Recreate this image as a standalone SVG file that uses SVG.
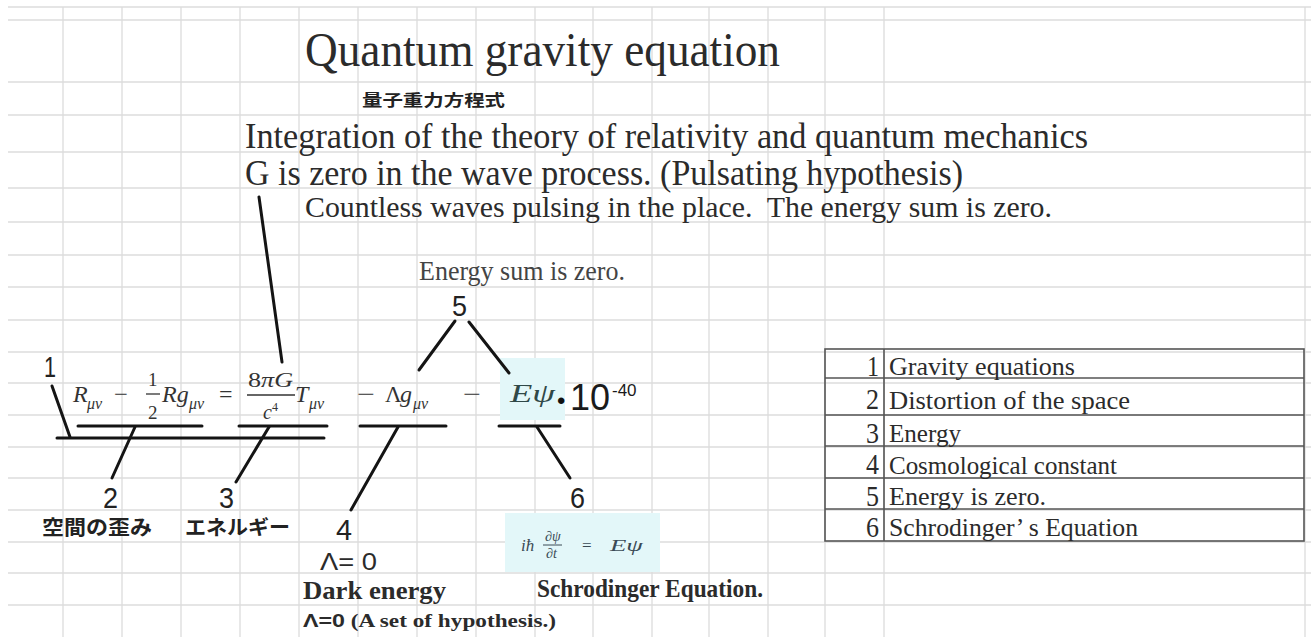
<svg xmlns="http://www.w3.org/2000/svg" width="1311" height="637" viewBox="0 0 1311 637">
<style>
.grid line{stroke:#dcdcdc;stroke-width:1.3}
.ser{font-family:"Liberation Serif","Noto Sans CJK JP",serif;fill:#2b2b2b}
.sans{font-family:"Liberation Sans",Arial,sans-serif;fill:#2b2b2b}
.cjk{font-family:"Noto Sans CJK JP","Noto Sans CJK SC",sans-serif;font-weight:bold;fill:#222}
.num{font-family:"Liberation Sans",Arial,sans-serif;fill:#222;font-size:30px}
.math{font-family:"Liberation Serif",serif;fill:#333}
.it{font-style:italic}
.sub{font-family:"Liberation Serif",serif;fill:#333;font-style:italic;font-size:16px}
.sch{font-family:"Liberation Serif",serif;fill:#3a4a55}
.conn line{stroke:#141414;stroke-width:3;stroke-linecap:round}
.tbl line,.tbl rect{stroke:#555;stroke-width:1.6;fill:none}
.tl{font-family:"Liberation Serif",serif;font-size:26px;fill:#2b2b2b}
.tn{font-family:"Liberation Serif",serif;font-size:30px;fill:#2b2b2b;text-anchor:end}
</style>
<rect x="0" y="0" width="1311" height="637" fill="#ffffff"/>
<g id="grid" class="grid">
<line x1="8" y1="7" x2="1311" y2="7"/>
<line x1="8" y1="20" x2="1311" y2="20"/>
<line x1="8" y1="82" x2="1311" y2="82"/>
<line x1="8" y1="115" x2="1311" y2="115"/>
<line x1="8" y1="152" x2="1311" y2="152"/>
<line x1="8" y1="188" x2="1311" y2="188"/>
<line x1="8" y1="222" x2="1311" y2="222"/>
<line x1="8" y1="255" x2="1311" y2="255"/>
<line x1="8" y1="287" x2="1311" y2="287"/>
<line x1="8" y1="320" x2="1311" y2="320"/>
<line x1="8" y1="352" x2="1311" y2="352"/>
<line x1="8" y1="383" x2="1311" y2="383"/>
<line x1="8" y1="415" x2="1311" y2="415"/>
<line x1="8" y1="447" x2="1311" y2="447"/>
<line x1="8" y1="478" x2="1311" y2="478"/>
<line x1="8" y1="510" x2="1311" y2="510"/>
<line x1="8" y1="542" x2="1311" y2="542"/>
<line x1="8" y1="573" x2="1311" y2="573"/>
<line x1="8" y1="605" x2="1311" y2="605"/>
<line x1="63" y1="7" x2="63" y2="637"/>
<line x1="122" y1="7" x2="122" y2="637"/>
<line x1="181" y1="7" x2="181" y2="637"/>
<line x1="240" y1="7" x2="240" y2="637"/>
<line x1="299" y1="7" x2="299" y2="637"/>
<line x1="358" y1="7" x2="358" y2="637"/>
<line x1="417" y1="7" x2="417" y2="637"/>
<line x1="476" y1="7" x2="476" y2="637"/>
<line x1="535" y1="7" x2="535" y2="637"/>
<line x1="593" y1="7" x2="593" y2="637"/>
<line x1="652" y1="7" x2="652" y2="637"/>
<line x1="709" y1="7" x2="709" y2="637"/>
<line x1="768" y1="7" x2="768" y2="637"/>
<line x1="825" y1="7" x2="825" y2="637"/>
<line x1="884" y1="7" x2="884" y2="637"/>
<line x1="1305" y1="7" x2="1305" y2="637"/>
</g>
<g id="highlights">
<rect x="500" y="358" width="65" height="62" fill="#e3f7f9"/>
<rect x="505" y="513" width="155" height="59" fill="#e3f7f9"/>
</g>
<g id="title">
<text class="ser" x="305" y="66" font-size="49" textLength="475" lengthAdjust="spacingAndGlyphs">Quantum gravity equation</text>
<text class="cjk" x="362" y="106" font-size="16" textLength="143" lengthAdjust="spacingAndGlyphs">量子重力方程式</text>
</g>
<g id="description">
<text class="ser" x="245" y="148" font-size="35" textLength="843" lengthAdjust="spacingAndGlyphs">Integration of the theory of relativity and quantum mechanics</text>
<text class="ser" x="245" y="185" font-size="35" textLength="718" lengthAdjust="spacingAndGlyphs">G is zero in the wave process. (Pulsating hypothesis)</text>
<text class="ser" x="305" y="217" font-size="29" textLength="747" lengthAdjust="spacingAndGlyphs">Countless waves pulsing in the place.&#160; The energy sum is zero.</text>
<text class="ser" x="419" y="280" font-size="27" textLength="206" lengthAdjust="spacingAndGlyphs" style="fill:#444">Energy sum is zero.</text>
</g>
<g id="formula">
<text class="math it" x="73" y="402" font-size="24">R</text>
<text class="sub" x="87" y="409">μν</text>
<text class="math" x="114" y="402" font-size="24" textLength="14" lengthAdjust="spacingAndGlyphs">−</text>
<text class="math" x="148" y="386" font-size="19">1</text>
<line x1="146" y1="394" x2="160" y2="394" stroke="#333" stroke-width="1.3"/>
<text class="math" x="148" y="419" font-size="19">2</text>
<text class="math it" x="162" y="402" font-size="24">Rg</text>
<text class="sub" x="189" y="409">μν</text>
<text class="math" x="219" y="402" font-size="24">=</text>
<text class="math" x="248" y="387" font-size="20" textLength="45" lengthAdjust="spacingAndGlyphs">8<tspan class="it">πG</tspan></text>
<line x1="247" y1="395" x2="295" y2="395" stroke="#333" stroke-width="1.3"/>
<text class="math it" x="263" y="419" font-size="20">c</text>
<text class="math" x="272" y="411" font-size="12">4</text>
<text class="math it" x="295" y="402" font-size="24">T</text>
<text class="sub" x="309" y="409">μν</text>
<text class="math" x="357" y="402" font-size="24" textLength="18" lengthAdjust="spacingAndGlyphs">−</text>
<text class="math" x="385" y="402" font-size="23">Λ</text>
<text class="math it" x="400" y="402" font-size="24">g</text>
<text class="sub" x="413" y="409">μν</text>
<text class="math" x="463" y="402" font-size="24" textLength="18" lengthAdjust="spacingAndGlyphs">−</text>
<text class="math it" x="510" y="402" font-size="26" style="fill:#2f4848" textLength="45" lengthAdjust="spacingAndGlyphs">Eψ</text>
<text class="sans" x="557" y="409" font-size="24" style="fill:#111">•</text>
<text class="sans" x="570" y="410" font-size="36" style="fill:#1a1a1a">10</text>
<text class="sans" x="612" y="396" font-size="17" style="fill:#1a1a1a">-40</text>
</g>
<g id="schrodinger">
<text class="sch it" x="521" y="551" font-size="17">iħ</text>
<text class="sch it" x="545" y="541" font-size="14">∂ψ</text>
<line x1="543" y1="545" x2="562" y2="545" stroke="#3a4a55" stroke-width="1"/>
<text class="sch it" x="546" y="558" font-size="14">∂t</text>
<text class="sch" x="582" y="551" font-size="17">=</text>
<text class="sch it" x="610" y="551" font-size="17" textLength="33" lengthAdjust="spacingAndGlyphs">Eψ</text>
</g>
<g id="connectors" class="conn">
<line x1="259" y1="197" x2="282" y2="362"/>
<line x1="52" y1="386" x2="70" y2="437"/>
<line x1="57" y1="438" x2="324" y2="438"/>
<line x1="78" y1="426" x2="202" y2="426"/>
<line x1="239" y1="426" x2="327" y2="426"/>
<line x1="360" y1="426" x2="446" y2="426"/>
<line x1="499" y1="426" x2="560" y2="426"/>
<line x1="135" y1="427" x2="112" y2="478"/>
<line x1="269" y1="427" x2="236" y2="482"/>
<line x1="398" y1="427" x2="351" y2="510"/>
<line x1="537" y1="427" x2="570" y2="478"/>
<line x1="455" y1="321" x2="419" y2="370"/>
<line x1="469" y1="322" x2="509" y2="373"/>
</g>
<g id="label-1"><text class="num" x="44" y="377" textLength="12" lengthAdjust="spacingAndGlyphs">1</text></g>
<g id="label-2"><text class="num" x="103" y="508" textLength="15" lengthAdjust="spacingAndGlyphs">2</text>
<text class="cjk" x="42" y="535" font-size="20" textLength="110" lengthAdjust="spacingAndGlyphs">空間の歪み</text></g>
<g id="label-3"><text class="num" x="219" y="508" textLength="15" lengthAdjust="spacingAndGlyphs">3</text>
<text class="cjk" x="185" y="535" font-size="20" textLength="105" lengthAdjust="spacingAndGlyphs">エネルギー</text></g>
<g id="label-4"><text class="num" x="336" y="540" textLength="16" lengthAdjust="spacingAndGlyphs">4</text>
<text class="sans" x="320" y="570" font-size="23" textLength="57" lengthAdjust="spacingAndGlyphs">Λ= 0</text>
<text class="ser" x="303" y="599" font-size="25" font-weight="bold" textLength="143" lengthAdjust="spacingAndGlyphs">Dark energy</text>
<text class="ser" x="303" y="627" font-size="18" font-weight="bold" textLength="253" lengthAdjust="spacingAndGlyphs"><tspan font-family="Liberation Sans, sans-serif">Λ=0</tspan> (A set of hypothesis.)</text></g>
<g id="label-5"><text class="num" x="452" y="316" textLength="15" lengthAdjust="spacingAndGlyphs">5</text></g>
<g id="label-6"><text class="num" x="570" y="508" textLength="15" lengthAdjust="spacingAndGlyphs">6</text>
<text class="ser" x="537" y="597" font-size="25" font-weight="bold" textLength="226" lengthAdjust="spacingAndGlyphs">Schrodinger Equation.</text></g>
<g id="legend-table" class="tbl">
<rect x="825" y="349" width="479" height="192"/>
<line x1="884" y1="349" x2="884" y2="541"/>
<line x1="825" y1="378" x2="1304" y2="378"/>
<line x1="825" y1="415" x2="1304" y2="415"/>
<line x1="825" y1="446" x2="1304" y2="446"/>
<line x1="825" y1="478" x2="1304" y2="478"/>
<line x1="825" y1="509" x2="1304" y2="509"/>
<text class="tn" x="879" y="376" textLength="12" lengthAdjust="spacingAndGlyphs">1</text>
<text class="tl" x="889" y="375" textLength="186" lengthAdjust="spacingAndGlyphs">Gravity equations</text>
<text class="tn" x="879" y="409" textLength="13" lengthAdjust="spacingAndGlyphs">2</text>
<text class="tl" x="889" y="409" textLength="241" lengthAdjust="spacingAndGlyphs">Distortion of the space</text>
<text class="tn" x="879" y="443" textLength="13" lengthAdjust="spacingAndGlyphs">3</text>
<text class="tl" x="889" y="442" textLength="72" lengthAdjust="spacingAndGlyphs">Energy</text>
<text class="tn" x="879" y="474" textLength="13" lengthAdjust="spacingAndGlyphs">4</text>
<text class="tl" x="889" y="474" textLength="228" lengthAdjust="spacingAndGlyphs">Cosmological constant</text>
<text class="tn" x="879" y="506" textLength="13" lengthAdjust="spacingAndGlyphs">5</text>
<text class="tl" x="889" y="505" textLength="157" lengthAdjust="spacingAndGlyphs">Energy is zero.</text>
<text class="tn" x="879" y="537" textLength="13" lengthAdjust="spacingAndGlyphs">6</text>
<text class="tl" x="889" y="536" textLength="249" lengthAdjust="spacingAndGlyphs">Schrodinger’ s Equation</text>
</g>
</svg>
